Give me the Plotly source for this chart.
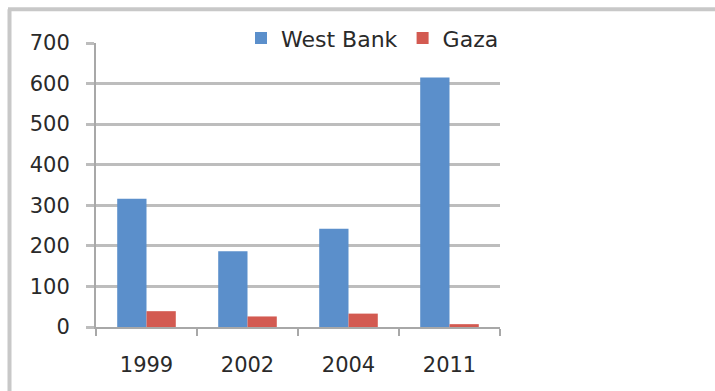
import plotly.graph_objects as go

years = ["1999", "2002", "2004", "2011"]
west_bank = [316, 187, 242, 615]
gaza = [39, 26, 33, 7]
y_ticks = [0, 100, 200, 300, 400, 500, 600, 700]

W, H = 715, 391
L, R, T, B = 96, 500, 42.7, 326.7

def px(x):
    return (x - L) / (R - L)

def py(y):
    return (B - y) / (B - T)

fig = go.Figure()
fig.add_trace(go.Bar(x=years, y=west_bank, name="West Bank", marker=dict(color="#5b8fcb", line_width=0)))
fig.add_trace(go.Bar(x=years, y=gaza, name="Gaza", marker=dict(color="#d35a51", line_width=0)))

font = "DejaVu Sans, sans-serif"
fig.update_layout(
    width=W, height=H,
    margin=dict(l=L, r=W - R, t=T, b=H - B, pad=0),
    paper_bgcolor="white", plot_bgcolor="white",
    barmode="group", bargap=0.42, bargroupgap=0,
    font=dict(family=font, size=21, color="#2a2a2a"),
    legend=dict(orientation="h", x=px(241), y=py(38), xanchor="left", yanchor="middle",
                bgcolor="rgba(0,0,0,0)", font=dict(size=22, color="#2a2a2a"),
                itemwidth=30, tracegroupgap=0),
    xaxis=dict(showgrid=False, showline=True, linecolor="#a8a8a8", linewidth=2,
               ticks="outside", tickson="boundaries", ticklen=7, tickcolor="#a8a8a8", tickwidth=2,
               ticklabelstandoff=18, tickfont=dict(size=21)),
    yaxis=dict(range=[0, 700], tickvals=y_ticks, showgrid=True, gridcolor="#bdbdbd", gridwidth=2.5,
               showline=True, linecolor="#a8a8a8", linewidth=2, zeroline=False,
               ticks="outside", ticklen=8, tickcolor="#bdbdbd", tickwidth=2.5,
               ticklabelstandoff=12, tickfont=dict(size=21)),
    shapes=[
        dict(type="line", xref="paper", yref="paper", x0=px(8), x1=px(715), y0=py(9), y1=py(9),
             line=dict(color="#c8c8c8", width=4)),
        dict(type="line", xref="paper", yref="paper", x0=px(9.5), x1=px(9.5), y0=py(9), y1=py(391),
             line=dict(color="#c8c8c8", width=4)),
    ],
)

fig.write_html("out.html")
